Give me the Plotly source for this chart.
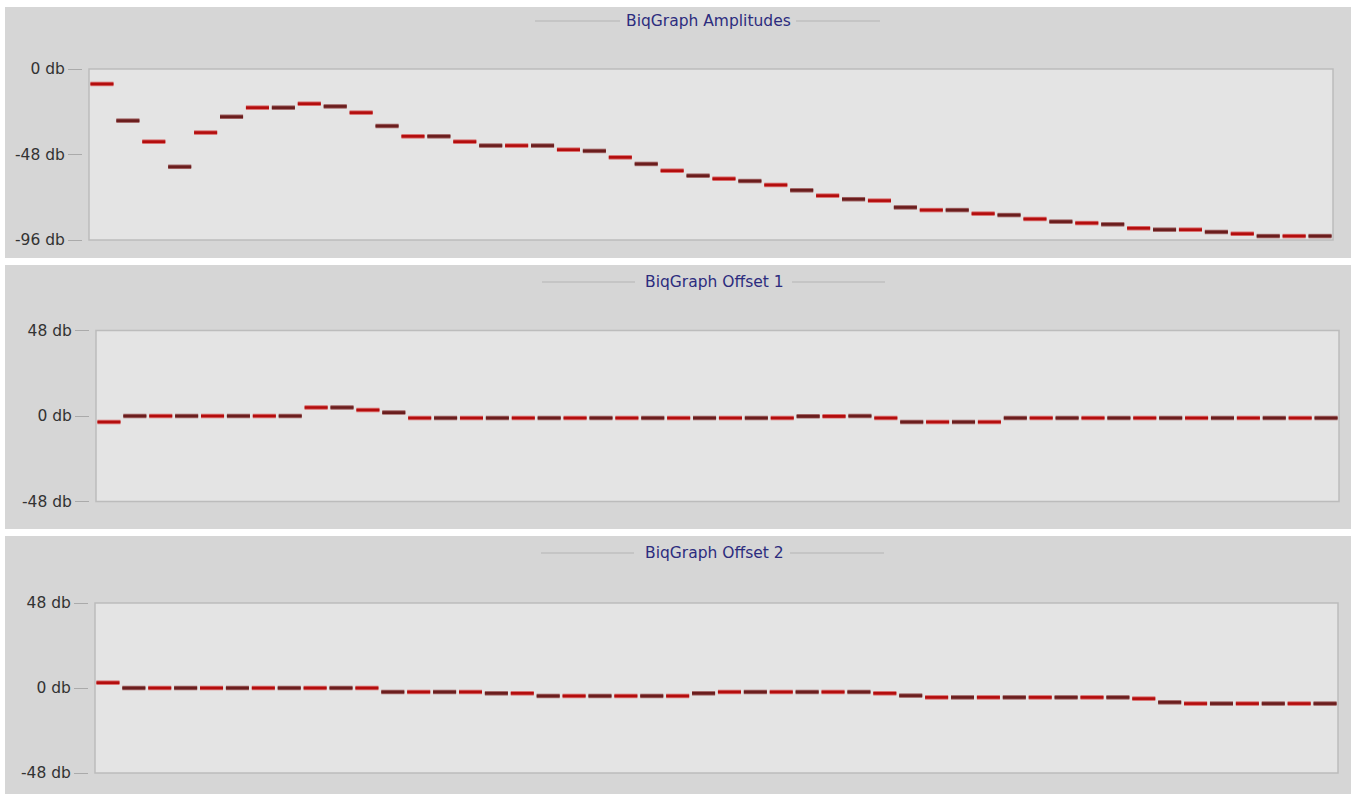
import plotly.graph_objects as go

W, H = 1351, 794

# ---------------- data ----------------
slots = list(range(48))

amplitudes = [-8.4, -29.0, -40.8, -54.9, -35.7, -26.8, -21.7, -21.7, -19.5, -21.0,
              -24.5, -32.0, -37.8, -37.8, -40.8, -43.0, -43.0, -43.0, -45.3, -46.0,
              -49.6, -53.3, -57.1, -59.9, -61.6, -62.9, -65.1, -68.1, -71.1, -73.1,
              -73.9, -77.7, -79.2, -79.2, -81.2, -82.0, -84.2, -85.7, -86.5, -87.2,
              -89.4, -90.2, -90.2, -91.5, -92.5, -93.8, -93.8, -93.8]

offset1 = [-3.4, 0.0, 0.0, 0.0, 0.0, 0.0, 0.0, 0.0, 4.8, 4.8,
           3.4, 1.9, -1.1, -1.1, -1.1, -1.1, -1.1, -1.1, -1.1, -1.1,
           -1.1, -1.1, -1.1, -1.1, -1.1, -1.1, -1.1, -0.2, -0.2, 0.0,
           -1.1, -3.4, -3.4, -3.4, -3.4, -1.1, -1.1, -1.1, -1.1, -1.1,
           -1.1, -1.1, -1.1, -1.1, -1.1, -1.1, -1.1, -1.1]

offset2 = [3.0, 0.0, 0.0, 0.0, 0.0, 0.0, 0.0, 0.0, 0.0, 0.0,
           0.0, -2.25, -2.25, -2.25, -2.25, -3.0, -3.0, -4.5, -4.5, -4.5,
           -4.5, -4.5, -4.5, -3.0, -2.25, -2.25, -2.25, -2.25, -2.25, -2.25,
           -3.0, -4.3, -5.3, -5.3, -5.3, -5.3, -5.3, -5.3, -5.3, -5.3,
           -6.0, -8.1, -8.8, -8.8, -8.8, -8.8, -8.8, -8.8]

titles = ["BiqGraph Amplitudes", "BiqGraph Offset 1", "BiqGraph Offset 2"]
tick_values = [[0, -48, -96], [48, 0, -48], [48, 0, -48]]
tick_labels = [["0 db", "-48 db", "-96 db"], ["48 db", "0 db", "-48 db"], ["48 db", "0 db", "-48 db"]]
y_ranges = [[-96, 0], [-48, 48], [-48, 48]]
series = [amplitudes, offset1, offset2]

# ---------------- layout geometry (pixels) ----------------
panels_px = [(7, 258), (265, 529), (536, 794)]          # panel background top/bottom
plot_px = [(89, 1333, 69, 240), (96, 1339, 330.5, 501.5), (95, 1338, 603, 773)]
title_px = [(708, 21), (714.5, 282), (714, 553)]
title_lines_px = [((535, 620), (796, 880)), ((542, 635), (792, 885)), ((541, 634), (790, 884))]

RED = "#b30d0d"
RED_EDGE = "#d86a6a"
DARK = "#6a1d1d"
DARK_EDGE = "#a06262"
HALF = 0.445
FONT = "DejaVu Sans, Verdana, sans-serif"

def px(x):
    return x / W

def py(y):
    return 1 - y / H

fig = go.Figure()
shapes = []
annotations = []
layout_axes = {}

for k in range(3):
    xl, xr, yt, yb = plot_px[k]
    xa = "xaxis" if k == 0 else f"xaxis{k+1}"
    ya = "yaxis" if k == 0 else f"yaxis{k+1}"
    xref = "x" if k == 0 else f"x{k+1}"
    yref = "y" if k == 0 else f"y{k+1}"

    # panel background
    pt, pb = panels_px[k]
    shapes.append(dict(type="rect", xref="paper", yref="paper", x0=px(5), x1=1, y0=py(pb), y1=py(pt),
                       fillcolor="#d6d6d6", line=dict(width=0), layer="below"))
    # plot area
    shapes.append(dict(type="rect", xref="paper", yref="paper", x0=px(xl), x1=px(xr), y0=py(yb), y1=py(yt),
                       fillcolor="#e4e4e4", line=dict(color="#bcbcbc", width=1.5), layer="below"))
    # title lines
    tx, ty = title_px[k]
    for (a, b) in title_lines_px[k]:
        shapes.append(dict(type="line", xref="paper", yref="paper", x0=px(a), x1=px(b), y0=py(ty), y1=py(ty),
                           line=dict(color="#b4b4b4", width=1), layer="below"))
    annotations.append(dict(text=titles[k], xref="paper", yref="paper", x=px(tx), y=py(ty),
                            xanchor="center", yanchor="middle", showarrow=False,
                            font=dict(family=FONT, size=15.5, color="#2c2c7e")))

    layout_axes[xa] = dict(domain=[px(xl), px(xr)], range=[-0.5, 47.5], visible=False,
                           anchor=yref, fixedrange=True, automargin=False)
    layout_axes[ya] = dict(domain=[py(yb), py(yt)], range=y_ranges[k], anchor="free",
                           position=px(xl - 7), automargin=False,
                           tickmode="array", tickvals=tick_values[k], ticktext=tick_labels[k],
                           ticks="outside", ticklen=14, tickwidth=1, tickcolor="#aaaaaa",
                           showgrid=False, zeroline=False, showline=False,
                           tickfont=dict(family=FONT, size=15.5, color="#333333"),
                           fixedrange=True)

    vals = series[k]
    for parity, (col, edge) in enumerate([(RED, RED_EDGE), (DARK, DARK_EDGE)]):
        xs, ys = [], []
        for i in slots:
            if i % 2 != parity:
                continue
            xs += [i - HALF, i + HALF, None]
            ys += [vals[i], vals[i], None]
        fig.add_trace(go.Scatter(x=xs, y=ys, mode="lines", xaxis=xref, yaxis=yref,
                                 line=dict(color=edge, width=4.5), hoverinfo="skip", showlegend=False))
        fig.add_trace(go.Scatter(x=xs, y=ys, mode="lines", xaxis=xref, yaxis=yref,
                                 line=dict(color=col, width=2.6), showlegend=False))

fig.update_layout(
    template="none",
    width=W, height=H,
    autosize=False,
    margin=dict(l=0, r=0, t=0, b=0, pad=0, autoexpand=False),
    paper_bgcolor="#ffffff",
    plot_bgcolor="rgba(0,0,0,0)",
    shapes=shapes,
    annotations=annotations,
    showlegend=False,
    **layout_axes,
)

pin_js = (
    "document.body.style.margin='0';"
    "document.body.style.overflow='hidden';"
    "var gd=document.getElementById('{plot_id}');"
    "gd.style.position='fixed';gd.style.top='0px';gd.style.left='0px';"
)

fig.write_html("out.html", post_script=pin_js,
               config={"displayModeBar": False, "responsive": False})
